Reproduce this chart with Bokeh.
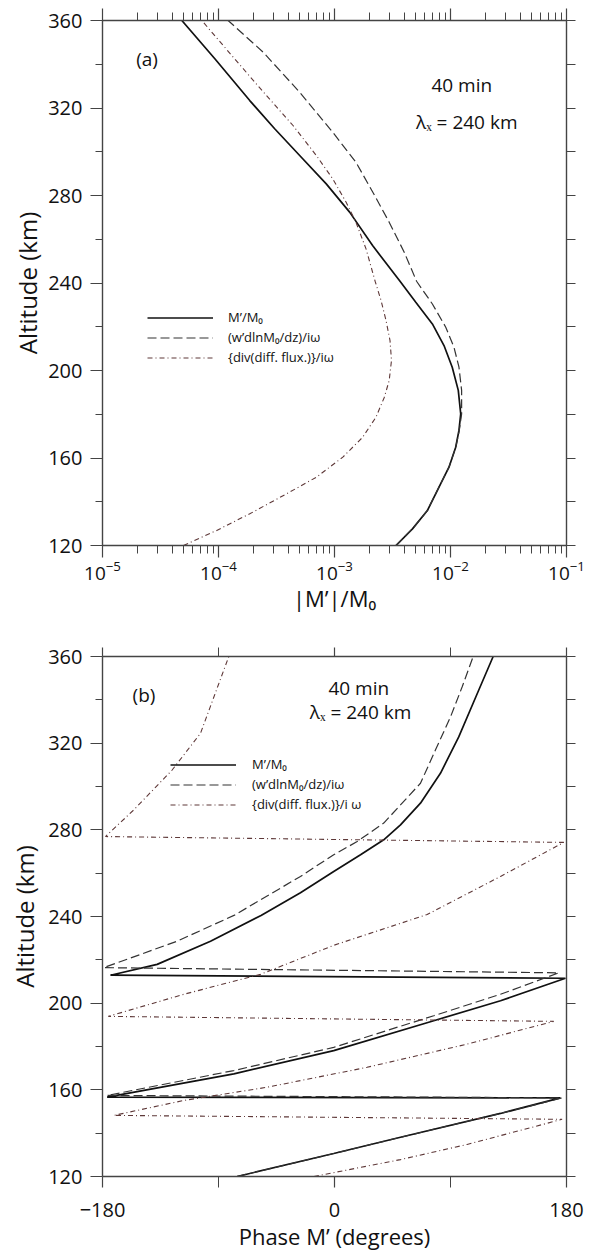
from bokeh.plotting import figure
from bokeh.models import (LogAxis, LinearAxis, LogTicker, FixedTicker, Range1d,
                          Legend, LegendItem, Label, Title, CustomJSTickFormatter)
from bokeh.layouts import column
from bokeh.embed import file_html
from bokeh.resources import INLINE

# ---------------- data ----------------
ALT_TICKS = [120, 160, 200, 240, 280, 320, 360]
ALT_MINOR = [140, 180, 220, 260, 300, 340]
PHASE_TICKS = [-180, 0, 180]
PHASE_MINOR = [-90, 90]

# panel (a): |M'|/M0 amplitude profiles (altitude km, magnitude)
A_SOLID_ALT = [120, 127.6, 136.0, 146.7, 155.8, 164.9, 172.6, 180.2, 190.9, 201.5, 211.4,
               221.3, 231.2, 241.1, 257.1, 272.4, 285.3, 298.3, 310.5, 323.4, 342.5, 360]
A_SOLID_MAG = [3.39e-3, 4.70e-3, 6.32e-3, 7.96e-3, 9.7e-3, 1.109e-2, 1.183e-2, 1.225e-2,
               1.167e-2, 1.035e-2, 8.79e-3, 6.98e-3, 5.02e-3, 3.63e-3, 2.13e-3, 1.35e-3,
               8.49e-4, 5.01e-4, 3.05e-4, 1.86e-4, 9.3e-5, 4.83e-5]

A_DASH_ALT = [120, 127.6, 136.0, 146.7, 155.8, 164.9, 172.6, 180.2, 190.9, 201.5, 210.6,
              219.8, 230.4, 240.8, 254.1, 267.8, 281.5, 295.2, 308.9, 327.2, 345.5, 360]
A_DASH_MAG = [3.39e-3, 4.70e-3, 6.32e-3, 7.96e-3, 9.7e-3, 1.109e-2, 1.19e-2, 1.247e-2,
              1.247e-2, 1.183e-2, 1.072e-2, 9.1e-3, 6.98e-3, 5.1e-3, 3.99e-3, 2.96e-3,
              2.14e-3, 1.53e-3, 9.66e-4, 5.01e-4, 2.43e-4, 1.21e-4]

A_DD_ALT = [120, 126.9, 134.5, 143.6, 151.2, 160.4, 169.5, 178.7, 187.8, 195.4, 204.6,
            213.7, 222.9, 232.0, 240.8, 255.6, 267.8, 276.9, 287.6, 298.3, 312.0, 325.7,
            343.2, 360]
A_DD_MAG = [4.99e-5, 9.66e-5, 1.86e-4, 3.85e-4, 6.97e-4, 1.18e-3, 1.75e-3, 2.28e-3,
            2.69e-3, 2.96e-3, 3.10e-3, 3.01e-3, 2.78e-3, 2.52e-3, 2.24e-3, 1.87e-3,
            1.53e-3, 1.26e-3, 9.66e-4, 6.97e-4, 4.39e-4, 2.59e-4, 1.34e-4, 7.18e-5]

# panel (b): phase profiles (degrees), drawn in order incl. the wrap-around jumps
B_SOLID_PHASE = [-75.6, -0.6, 51.2, 128.8, 175.3, -176.4, -78.1, -0.6, 77, 128.8, 179.2,
                 -173.8, -137.6, -96.2, -57, -26.4, -0.6, 20.2, 38.2, 51.2, 66.7, 82.2,
                 96.4, 110.7, 123.1]
B_SOLID_ALT = [120, 130.6, 138.1, 149.1, 156.3, 156.6, 167.4, 178.1, 191.9, 201.1, 211.5,
               212.9, 217.9, 228.6, 240.5, 251.0, 260.8, 268.5, 275.4, 282.3, 292.3, 306.1,
               322.9, 342.8, 360]

B_DASH_PHASE = [-75.6, -0.6, 51.2, 128.8, 176.6, -176.4, -78.1, -0.6, 77, 128.8, 174,
                -179, -122.1, -78, -26.4, -0.6, 17.6, 38.2, 66.7, 78.3, 90, 99, 107.6]
B_DASH_ALT = [120, 130.6, 138.1, 149.1, 156.3, 157.4, 168.9, 179.6, 194.2, 204.1, 214,
              216.4, 228.6, 240.5, 258.5, 268.5, 274.6, 283.1, 301.5, 316.8, 332.1, 345.9, 360]

B_DD_PHASE = [-16, 51.2, 102.9, 176.6, -171.2, -116.9, -52.2, 25.3, 102.9, 170.1,
              -175.5, -116.9, -57.4, -0.6, 71.9, 128.8, 177.9, -177.7, -155.7, -126, -104, -82]
B_DD_ALT = [120, 127.8, 134.8, 146.4, 148.2, 155.1, 161.2, 170.4, 181.1, 191.6,
            193.9, 204.1, 213.3, 226.7, 240.9, 258.5, 274.2, 276.9, 289.2, 307.6, 324.5, 360]

LEG_LABELS_A = ["M’/M₀", "(w’dlnM₀/dz)/iω", "{div(diff. flux.)}/iω"]
LEG_LABELS_B = ["M’/M₀", "(w’dlnM₀/dz)/iω", "{div(diff. flux.)}/i ω"]

# ---------------- style ----------------
FONT = "Open Sans"
AX = "#444444"
TXT = "#111111"
SOLID_C = "#111111"
DASH_C = "#333333"
DD_C = "#5e3838"


def style_axis(ax, major_out, minor_out, show_labels=True, size="20px"):
    ax.axis_line_color = AX
    ax.axis_line_width = 1.4
    ax.major_tick_line_color = AX
    ax.minor_tick_line_color = AX
    ax.major_tick_line_width = 1.2
    ax.minor_tick_line_width = 1.0
    ax.major_tick_in = 0
    ax.minor_tick_in = 0
    ax.major_tick_out = major_out
    ax.minor_tick_out = minor_out
    ax.major_label_text_font = FONT
    ax.major_label_text_font_size = size
    ax.major_label_text_color = TXT
    ax.axis_label_text_font = FONT
    ax.axis_label_text_font_style = "normal"
    ax.axis_label_text_color = TXT
    if not show_labels:
        ax.formatter = CustomJSTickFormatter(code="return ''")
        ax.major_label_text_font_size = "1px"
        ax.major_label_standoff = 0


def add_lines(p, xs_list, ys_list):
    r1 = p.line(xs_list[0], ys_list[0], line_color=SOLID_C, line_width=1.7)
    r2 = p.line(xs_list[1], ys_list[1], line_color=DASH_C, line_width=1.2, line_dash="9 4")
    r3 = p.line(xs_list[2], ys_list[2], line_color=DD_C, line_width=1.1, line_dash="5 3 1 3")
    return r1, r2, r3


def make_legend(rs, labels, loc, standoff):
    leg = Legend(items=[LegendItem(label=l, renderers=[r]) for l, r in zip(labels, rs)],
                 location=loc, background_fill_alpha=0, border_line_color=None,
                 padding=0, margin=0, spacing=2, glyph_width=66, glyph_height=15,
                 label_height=15, label_standoff=standoff, label_text_font=FONT,
                 label_text_font_size="13px", label_text_color=TXT)
    return leg


def label(p, x, y, text, size, **kw):
    p.add_layout(Label(x=x, y=y, text=text, text_align="center", text_baseline="middle",
                       text_font=FONT, text_font_size=size, text_color=TXT, **kw))


# ---------------- panel (a) ----------------
p1 = figure(width=595, height=625, x_axis_type="log", x_range=Range1d(1e-5, 1e-1),
            y_range=Range1d(120, 360), output_backend="svg", toolbar_location=None,
            min_border_left=102, min_border_right=28, min_border_top=20, min_border_bottom=80)
p1.grid.visible = False
p1.outline_line_color = None

p1.xaxis.ticker = LogTicker(num_minor_ticks=10)
style_axis(p1.xaxis[0], 12, 8, size="19px")
p1.xaxis.major_label_standoff = 3
p1.xaxis.axis_label = "|M’|/M₀"
p1.xaxis.axis_label_text_font_size = "22px"
p1.xaxis.axis_label_standoff = 0

p1.yaxis.ticker = FixedTicker(ticks=ALT_TICKS, minor_ticks=ALT_MINOR)
style_axis(p1.yaxis[0], 12, 7)
p1.yaxis.major_label_standoff = 8

top1 = LogAxis(ticker=LogTicker(num_minor_ticks=10))
style_axis(top1, 12, 8, show_labels=False)
p1.add_layout(top1, "above")
right1 = LinearAxis(ticker=FixedTicker(ticks=ALT_TICKS, minor_ticks=ALT_MINOR))
style_axis(right1, 9, 9, show_labels=False)
p1.add_layout(right1, "right")

ytitle = Title(text="Altitude (km)", align="center", offset=90, standoff=4,
               text_font=FONT, text_font_size="24px", text_font_style="normal",
               text_color=TXT)
p1.add_layout(ytitle, "left")

ra = add_lines(p1, [A_SOLID_MAG, A_DASH_MAG, A_DD_MAG], [A_SOLID_ALT, A_DASH_ALT, A_DD_ALT])
p1.add_layout(make_legend(ra, LEG_LABELS_A, (45, 179), 15))

label(p1, 2.42e-5, 342.2, "(a)", "19px")
label(p1, 1.25e-2, 330.3, "40 min", "19px")
label(p1, 1.38e-2, 313.8, "λₓ = 240 km", "19px")

# ---------------- panel (b) ----------------
p2 = figure(width=595, height=628, x_range=Range1d(-180, 180), y_range=Range1d(120, 360),
            output_backend="svg", toolbar_location=None,
            min_border_left=102, min_border_right=29, min_border_top=31, min_border_bottom=75)
p2.grid.visible = False
p2.outline_line_color = None

p2.xaxis.ticker = FixedTicker(ticks=PHASE_TICKS, minor_ticks=PHASE_MINOR)
style_axis(p2.xaxis[0], 11, 11)
p2.xaxis.major_label_standoff = 15
p2.xaxis.axis_label = "Phase M’ (degrees)"
p2.xaxis.axis_label_text_font_size = "22px"
p2.xaxis.axis_label_standoff = 1

p2.yaxis.ticker = FixedTicker(ticks=ALT_TICKS, minor_ticks=ALT_MINOR)
style_axis(p2.yaxis[0], 12, 7)
p2.yaxis.major_label_standoff = 8
p2.yaxis.axis_label = "Altitude (km)"
p2.yaxis.axis_label_text_font_size = "24px"
p2.yaxis.axis_label_standoff = 4

top2 = LinearAxis(ticker=FixedTicker(ticks=PHASE_TICKS, minor_ticks=PHASE_MINOR))
style_axis(top2, 9, 9, show_labels=False)
p2.add_layout(top2, "above")
right2 = LinearAxis(ticker=FixedTicker(ticks=ALT_TICKS, minor_ticks=ALT_MINOR))
style_axis(right2, 9, 9, show_labels=False)
p2.add_layout(right2, "right")

rb = add_lines(p2, [B_SOLID_PHASE, B_DASH_PHASE, B_DD_PHASE], [B_SOLID_ALT, B_DASH_ALT, B_DD_ALT])
p2.add_layout(make_legend(rb, LEG_LABELS_B, (68, 363), 16))

label(p2, -147.8, 342.1, "(b)", "19px")
label(p2, 18.8, 345.3, "40 min", "19px")
label(p2, 20.2, 334.3, "λₓ = 240 km", "19px")

layout = column(p1, p2, spacing=0)
open("out.html", "w").write(file_html(layout, INLINE))
